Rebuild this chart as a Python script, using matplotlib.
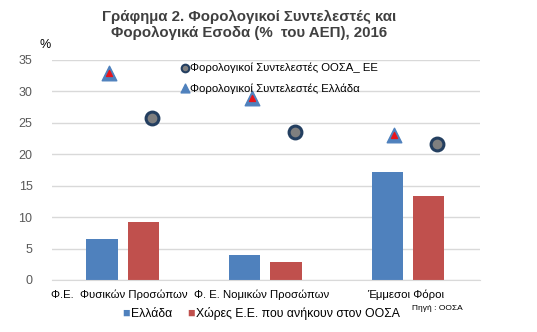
import numpy as np
import matplotlib.pyplot as plt

categories = ["Φ.Ε.  Φυσικών Προσώπων", "Φ. Ε. Νομικών Προσώπων", "Έμμεσοι Φόροι"]
revenue_greece = [6.5, 4.0, 17.2]
revenue_oecd_eu = [9.2, 2.9, 13.4]
rate_greece = [33.0, 29.0, 23.0]
rate_oecd_eu = [25.7, 23.6, 21.6]

plt.rcParams['font.family'] = ['Liberation Sans', 'DejaVu Sans']

fig = plt.figure(figsize=(5.37, 3.32), dpi=100)
ax = fig.add_axes([52 / 537, 52 / 332, 428 / 537, 220 / 332])

x = np.arange(len(categories))
w = 0.22
blue = '#4F81BD'
red = '#C0504D'
ax.bar(x - 0.15, revenue_greece, w, color=blue, zorder=2)
ax.bar(x + 0.14, revenue_oecd_eu, w, color=red, zorder=2)

ax.scatter(x - 0.1, rate_greece, marker='^', s=110, color=blue, zorder=3)
ax.scatter(x - 0.1, rate_greece, marker='^', s=18, color='#E8141B', zorder=4)
ax.scatter(x + 0.2, rate_oecd_eu, marker='o', s=85, facecolor='#7F7F7F',
           edgecolor='#243F60', linewidth=2.2, zorder=3)

ax.set_xlim(-0.5, 2.5)
ax.set_ylim(0, 35)
ax.set_yticks(range(0, 36, 5))
ax.yaxis.grid(True, color='#D9D9D9', linewidth=1)
ax.set_axisbelow(True)
for s in ['top', 'right', 'left']:
    ax.spines[s].set_visible(False)
ax.spines['bottom'].set_color('#D9D9D9')
ax.tick_params(axis='y', length=0, labelsize=9, colors='#595959', pad=14)
ax.tick_params(axis='x', length=0, labelsize=8.2, colors='black', pad=7)
ax.set_xticks(x + np.array([-0.03, -0.03, -0.02]))
ax.set_xticklabels(categories)

fig.text(45 / 537, 1 - 45 / 332, '%', fontsize=9, ha='center', va='center')
fig.text(249 / 537, 1 - 25 / 332,
         'Γράφημα 2. Φορολογικοί Συντελεστές και\nΦορολογικά Εσοδα (%  του ΑΕΠ), 2016',
         fontsize=10.8, fontweight='bold', color='#404040', ha='center', va='center',
         linespacing=1.1)

# marker legend inside plot
ax.scatter([0.43], [33.7], marker='o', s=30, facecolor='#7F7F7F', edgecolor='#243F60',
           linewidth=1.5, zorder=3)
ax.text(0.47, 33.7, 'Φορολογικοί Συντελεστές ΟΟΣΑ_ ΕΕ', fontsize=8.2, va='center')
ax.scatter([0.43], [30.5], marker='^', s=40, color=blue, zorder=3)
ax.text(0.47, 30.5, 'Φορολογικοί Συντελεστές Ελλάδα', fontsize=8.2, va='center')

# bottom legend
fig.text(122 / 537, 1 - 314 / 332, '■', color=blue, fontsize=9, va='center')
fig.text(131 / 537, 1 - 314 / 332, 'Ελλάδα', fontsize=8.8, va='center')
fig.text(187 / 537, 1 - 314 / 332, '■', color=red, fontsize=9, va='center')
fig.text(196 / 537, 1 - 314 / 332, 'Χώρες Ε.Ε. που ανήκουν στον ΟΟΣΑ', fontsize=8.8, va='center')
fig.text(412 / 537, 1 - 309 / 332, 'Πηγή : ΟΟΣΑ', fontsize=6, va='center')

fig.savefig('out.png', dpi=100)
